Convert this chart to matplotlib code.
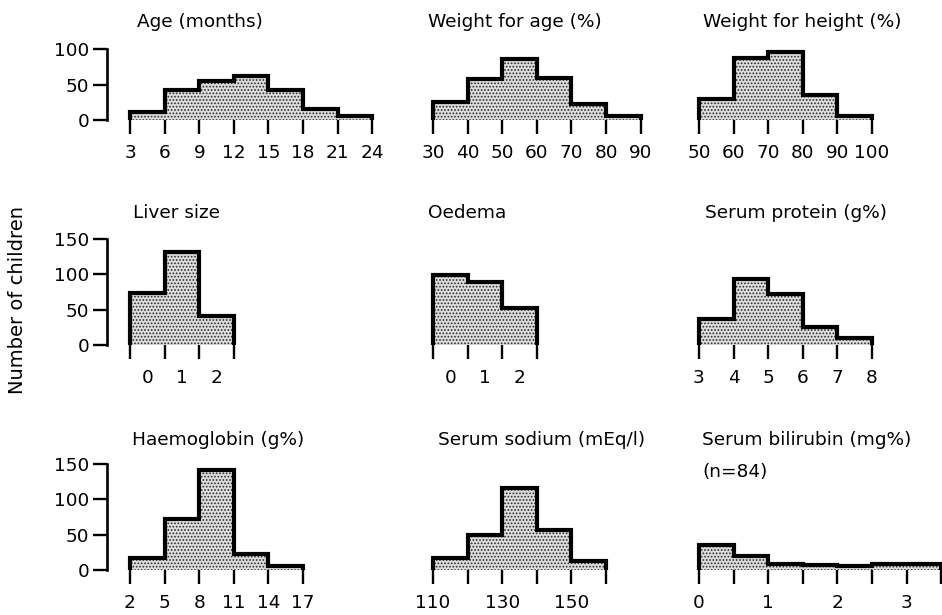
import matplotlib
matplotlib.use("Agg")
import matplotlib.pyplot as plt

# ---------------- data ----------------
age_edges = [3, 6, 9, 12, 15, 18, 21, 24]
age_counts = [11, 43, 55, 62, 43, 15, 6]

wfa_edges = [30, 40, 50, 60, 70, 80, 90]
wfa_counts = [26, 58, 86, 60, 22, 6]

wfh_edges = [50, 60, 70, 80, 90, 100]
wfh_counts = [30, 87, 96, 35, 6]

liver_cats = ["0", "1", "2"]
liver_counts = [73, 131, 41]

oedema_cats = ["0", "1", "2"]
oedema_counts = [99, 89, 52]

protein_edges = [3, 4, 5, 6, 7, 8]
protein_counts = [37, 93, 72, 25, 10]

hb_edges = [2, 5, 8, 11, 14, 17]
hb_counts = [17, 72, 141, 23, 6]

sodium_edges = [110, 120, 130, 140, 150, 160]
sodium_labels = ["110", "", "130", "", "150", ""]
sodium_counts = [17, 50, 116, 57, 13]

bili_edges = [0, 0.5, 1, 1.5, 2, 2.5, 3, 3.5]
bili_labels = ["0", "", "1", "", "2", "", "3", ""]
bili_counts = [36, 20, 8, 7, 5, 9, 9]

titles = ["Age (months)", "Weight for age (%)", "Weight for height (%)",
          "Liver size", "Oedema", "Serum protein (g%)",
          "Haemoglobin (g%)", "Serum sodium (mEq/l)", "Serum bilirubin (mg%)"]
ylabel = "Number of children"
note = "(n=84)"

# ---------------- layout ----------------
W, H = 942, 615
fig = plt.figure(figsize=(W / 100, H / 100), dpi=100)
plt.rcParams['font.family'] = ['DejaVu Sans']
plt.rcParams['hatch.linewidth'] = 0.8
FS = 13.3
BINW = 34.6           # px per bin
YSCALE = 0.707        # px per count
YMAX = 150
AX_H = YMAX * YSCALE

col_left = [130, 433, 699]
row_base = [120, 345, 570]


def panel(col, row, edges, counts, ticklabels=None, center_labels=None,
          yspine_top=None):
    nb = len(counts)
    left = col_left[col]
    base = row_base[row]
    w = nb * BINW
    ax = fig.add_axes([left / W, (H - base) / H, w / W, AX_H / H])
    ax.set_xlim(edges[0], edges[-1])
    ax.set_ylim(0, YMAX)
    ax.patch.set_visible(False)
    # fill (stipple)
    ax.stairs(counts, edges, baseline=0, fill=True, facecolor='#dcdcdc',
              edgecolor='#2a2a2a', linewidth=0, hatch='.....',
              clip_on=False, zorder=2)
    # outline
    ax.stairs(counts, edges, baseline=0, fill=True, facecolor='none',
              edgecolor='black', linewidth=3.0, joinstyle='miter',
              clip_on=False, zorder=3)
    for s in ['top', 'right', 'bottom']:
        ax.spines[s].set_visible(False)
    ax.set_xticks(edges)
    if center_labels is not None:
        ax.set_xticklabels([''] * len(edges))
        centers = [(edges[i] + edges[i + 1]) / 2 for i in range(nb)]
        ax.set_xticks(centers, minor=True)
        ax.set_xticklabels(center_labels, minor=True)
        ax.tick_params(axis='x', which='minor', length=0, pad=17, labelsize=FS)
    else:
        ax.set_xticklabels(ticklabels if ticklabels is not None
                           else [f"{e:g}" for e in edges])
    ax.tick_params(axis='x', which='major', length=10, width=1.7, pad=7,
                   labelsize=FS, direction='out')
    if yspine_top is None:
        ax.spines['left'].set_visible(False)
        ax.set_yticks([])
    else:
        sp = ax.spines['left']
        sp.set_position(('outward', 16.5))
        sp.set_bounds(0, yspine_top)
        sp.set_linewidth(1.9)
        ax.set_yticks(list(range(0, yspine_top + 1, 50)))
        ax.tick_params(axis='y', length=10, width=1.7, pad=3, labelsize=FS)
    return ax


panel(0, 0, age_edges, age_counts, yspine_top=100)
panel(1, 0, wfa_edges, wfa_counts)
panel(2, 0, wfh_edges, wfh_counts)

panel(0, 1, [-0.5, 0.5, 1.5, 2.5], liver_counts, center_labels=liver_cats,
      yspine_top=150)
panel(1, 1, [-0.5, 0.5, 1.5, 2.5], oedema_counts, center_labels=oedema_cats)
panel(2, 1, protein_edges, protein_counts)

panel(0, 2, hb_edges, hb_counts, yspine_top=150)
panel(1, 2, sodium_edges, sodium_counts, ticklabels=sodium_labels)
panel(2, 2, bili_edges, bili_counts, ticklabels=bili_labels)

title_pos = [(137, 22), (428, 22), (703, 22),
             (133, 213), (428, 213), (705, 213),
             (132, 440), (438, 440), (702, 440)]
for t, (x, y) in zip(titles, title_pos):
    fig.text(x / W, 1 - y / H, t, ha='left', va='center', fontsize=FS)
fig.text(702 / W, 1 - 472 / H, note, ha='left', va='center', fontsize=FS)

fig.text(18 / W, 1 - 300 / H, ylabel, rotation=90, ha='center', va='center',
         fontsize=14)

fig.savefig("out.png", dpi=100)
